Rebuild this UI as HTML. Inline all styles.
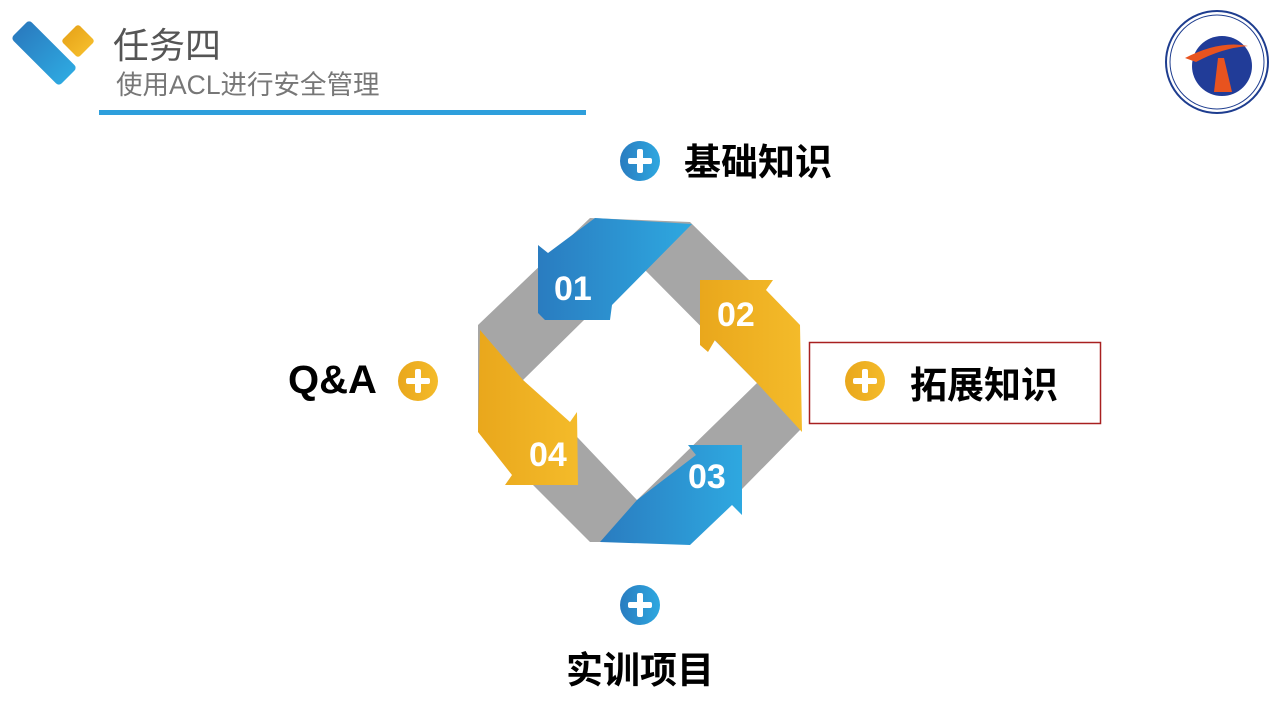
<!DOCTYPE html>
<html><head><meta charset="utf-8"><style>
html,body{margin:0;padding:0;background:#fff;width:1280px;height:720px;overflow:hidden}
body{position:relative;font-family:"Liberation Sans","Noto Sans CJK SC",sans-serif}
.t{position:absolute;white-space:nowrap}
</style></head><body>
<svg width="1280" height="720" style="position:absolute;left:0;top:0">
<defs>
<linearGradient id="bl" x1="0" y1="0" x2="1" y2="0"><stop offset="0" stop-color="#2a7cc0"/><stop offset="1" stop-color="#2ea8e0"/></linearGradient>
<linearGradient id="or" x1="0" y1="0" x2="1" y2="0"><stop offset="0" stop-color="#e9a71c"/><stop offset="1" stop-color="#f4bb2a"/></linearGradient>
</defs>
<rect x="10" y="40" width="68" height="26" rx="4" fill="url(#bl)" transform="rotate(45 44 53)"/>
<rect x="66" y="29" width="24" height="24" rx="3" fill="url(#or)" transform="rotate(45 78 41)"/>
<rect x="99" y="110" width="487" height="5" fill="#2e9fdc"/>
<circle cx="1217" cy="62" r="51" fill="#fff" stroke="#1e3d8f" stroke-width="2"/>
<circle cx="1217" cy="62" r="47" fill="none" stroke="#1e3d8f" stroke-width="1"/>
<circle cx="1222" cy="66" r="30" fill="#213c98"/>
<path d="M1185 58 Q1220 40 1248 46 Q1222 48 1196 62 Z" fill="#e8531f"/>
<path d="M1218 58 L1224 58 L1232 92 L1214 92 Z" fill="#e8531f"/>
<path fill-rule="evenodd" fill="#a6a6a6" d="M590 218 L690 222 L800 330 L800 430 L690 542 L590 542 L478 430 L478 325 Z M640 265 L757 383 L637 500 L523 380 Z"/>
<polygon fill="url(#bl)" points="595,218 692,224 612,305 610,320 545,320 538,313 538,245 548,253"/>
<polygon fill="url(#or)" points="700,280 773,280 766,290 800,325 802,432 757,383 715,340 708,352 700,345"/>
<polygon fill="url(#bl)" points="600,542 690,545 732,505 742,515 742,445 688,445 696,455 637,500"/>
<polygon fill="url(#or)" points="480,330 523,380 570,422 577,412 578,485 505,485 512,475 478,432"/>
<circle cx="640" cy="161" r="20" fill="url(#bl)"/><rect x="628" y="158" width="24" height="6" rx="2" fill="#fff"/><rect x="637" y="149" width="6" height="24" rx="2" fill="#fff"/>
<circle cx="640" cy="605" r="20" fill="url(#bl)"/><rect x="628" y="602" width="24" height="6" rx="2" fill="#fff"/><rect x="637" y="593" width="6" height="24" rx="2" fill="#fff"/>
<circle cx="418" cy="381" r="20" fill="url(#or)"/><rect x="406" y="378" width="24" height="6" rx="2" fill="#fff"/><rect x="415" y="369" width="6" height="24" rx="2" fill="#fff"/>
<circle cx="865" cy="381" r="20" fill="url(#or)"/><rect x="853" y="378" width="24" height="6" rx="2" fill="#fff"/><rect x="862" y="369" width="6" height="24" rx="2" fill="#fff"/>
<rect x="809.5" y="342.5" width="291" height="81" fill="none" stroke="#a82020" stroke-width="1.5"/>
<g fill="#fff" font-family="Liberation Sans" font-weight="bold" font-size="34">
<text x="554" y="300">01</text><text x="717" y="326">02</text><text x="688" y="488">03</text><text x="529" y="466">04</text>
</g>
</svg>
<div class="t" style="left:113px;top:17px;font-size:36px;color:#555">任务四</div>
<div class="t" style="left:116px;top:63px;font-size:26.5px;color:#777">使用ACL进行安全管理</div>
<div class="t" style="left:684px;top:132px;font-size:37px;font-weight:bold;color:#000">基础知识</div>
<div class="t" style="left:910px;top:355px;font-size:37px;font-weight:bold;color:#000">拓展知识</div>
<div class="t" style="left:288px;top:358px;font-size:40px;font-weight:bold;color:#000">Q&amp;A</div>
<div class="t" style="left:566px;top:640px;font-size:37px;font-weight:bold;color:#000">实训项目</div>
</body></html>
